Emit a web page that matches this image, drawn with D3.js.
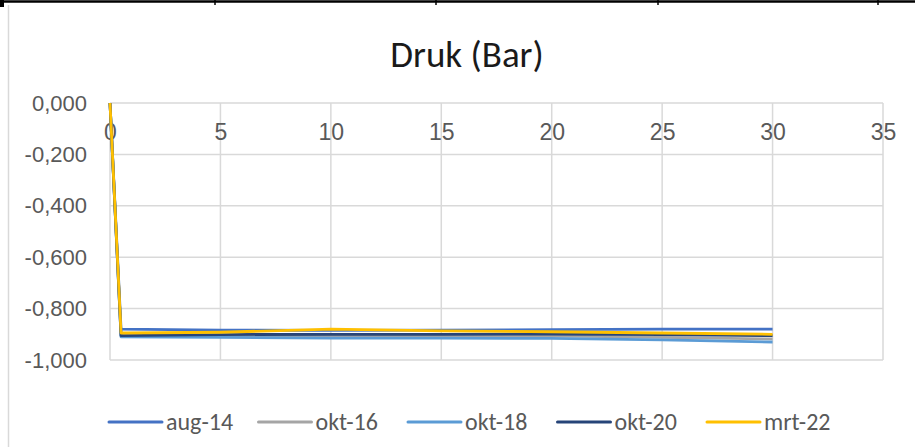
<!DOCTYPE html>
<html>
<head>
<meta charset="utf-8">
<script src="https://cdn.jsdelivr.net/npm/d3@7"></script>
<style>
  body { margin:0; background:#fff; }
  svg { display:block; font-family: Carlito, Calibri, "Open Sans", sans-serif; }
</style>
</head>
<body>
<div id="chart"></div>
<script>
// meetpunten (x) en drukwaarden per meting
const xValues = [0, 0.5, 5, 10, 15, 20, 25, 30]
const seriesNames = ["aug-14", "okt-16", "okt-18", "okt-20", "mrt-22"]
const aug14 = [0, -0.880, -0.884, -0.885, -0.884, -0.882, -0.880, -0.880]
const okt16 = [0, -0.906, -0.906, -0.905, -0.905, -0.906, -0.912, -0.918]
const okt18 = [0, -0.910, -0.912, -0.915, -0.915, -0.916, -0.922, -0.930]
const okt20 = [0, -0.905, -0.901, -0.900, -0.900, -0.899, -0.901, -0.905]
const mrt22 = [0, -0.895, -0.892, -0.880, -0.887, -0.890, -0.895, -0.900]
const xTicks = [0, 5, 10, 15, 20, 25, 30, 35]
const yTicks = [0, -0.2, -0.4, -0.6, -0.8, -1.0]
const colors = ["#4472C4", "#A5A5A5", "#5B9BD5", "#264478", "#FFC000"]

function render(){
  let width = 915, height = 447,
      margin = { top:103, left:110, right:32, bottom:87 },
      innerWidth = width - margin.left - margin.right,
      innerHeight = height - margin.top - margin.bottom

  const nl = d3.formatLocale({decimal:",", thousands:".", grouping:[3], currency:["",""], minus:"-"})
  const fmt = nl.format(".3f")

  let xScale = d3.scaleLinear().domain([0,35]).range([0,innerWidth])
  let yScale = d3.scaleLinear().domain([-1,0]).range([innerHeight,0])

  let svg = d3.select("#chart").append("svg").attr("width",width).attr("height",height)

  // spreadsheet cell border boven de grafiek
  svg.append("line").attr("x1",0).attr("x2",width).attr("y1",1.5).attr("y2",1.5)
     .attr("stroke","#000").attr("stroke-width",2.5)
  ;[215,436,658,878].forEach(x=>{
    svg.append("line").attr("x1",x).attr("x2",x).attr("y1",0).attr("y2",5)
       .attr("stroke","#000").attr("stroke-width",1.5)
  })
  svg.append("rect").attr("x",0).attr("y",0).attr("width",4).attr("height",7).attr("fill","#000")
  // kaderlijn links
  svg.append("line").attr("x1",8.5).attr("x2",8.5).attr("y1",5).attr("y2",height)
     .attr("stroke","#D9D9D9").attr("stroke-width",1.5)

  svg.append("text").attr("x",467).attr("y",67).attr("text-anchor","middle")
     .attr("font-size",37).attr("fill","#1a1a1a").text("Druk (Bar)")

  let g = svg.append("g").attr("transform",`translate(${margin.left},${margin.top})`)

  // rasterlijnen
  g.append("g").selectAll("line").data(yTicks).enter().append("line")
    .attr("x1",0).attr("x2",innerWidth)
    .attr("y1",d=>yScale(d)).attr("y2",d=>yScale(d))
    .attr("stroke","#D9D9D9").attr("stroke-width",1.5)
  g.append("g").selectAll("line").data(xTicks).enter().append("line")
    .attr("x1",d=>xScale(d)).attr("x2",d=>xScale(d))
    .attr("y1",0).attr("y2",innerHeight)
    .attr("stroke","#D9D9D9").attr("stroke-width",1.5)

  let yAxis = d3.axisLeft(yScale).tickValues(yTicks).tickFormat(fmt).tickSize(0).tickPadding(23)
  let ya = g.append("g").call(yAxis)
  ya.select(".domain").remove()
  ya.selectAll("text").attr("font-size",22).attr("fill","#595959").attr("font-family",null)

  let xAxis = d3.axisBottom(xScale).tickValues(xTicks).tickFormat(d3.format("d")).tickSize(0).tickPadding(21)
  let xa = g.append("g").call(xAxis)
  xa.select(".domain").remove()
  xa.selectAll("text").attr("font-size",23).attr("fill","#595959").attr("font-family",null)

  const allSeries = [aug14, okt16, okt18, okt20, mrt22]
  let line = d3.line().x((d,i)=>xScale(xValues[i])).y(d=>yScale(d))
  g.append("g").selectAll("path").data(allSeries).enter().append("path")
    .attr("d",d=>line(d))
    .attr("fill","none")
    .attr("stroke",(d,i)=>colors[i])
    .attr("stroke-width",2.8)
    .attr("stroke-linejoin","round")

  // legenda
  let leg = svg.append("g").selectAll("g").data(seriesNames).enter().append("g")
    .attr("transform",(d,i)=>`translate(${109 + i*149.5},422)`)
  leg.append("line").attr("x1",0).attr("x2",53).attr("y1",0).attr("y2",0)
    .attr("stroke",(d,i)=>colors[i]).attr("stroke-width",3).attr("stroke-linecap","round")
  leg.append("text").attr("x",57).attr("y",8).attr("font-size",24).attr("fill","#595959").text(d=>d)
}

render()
</script>
</body>
</html>
